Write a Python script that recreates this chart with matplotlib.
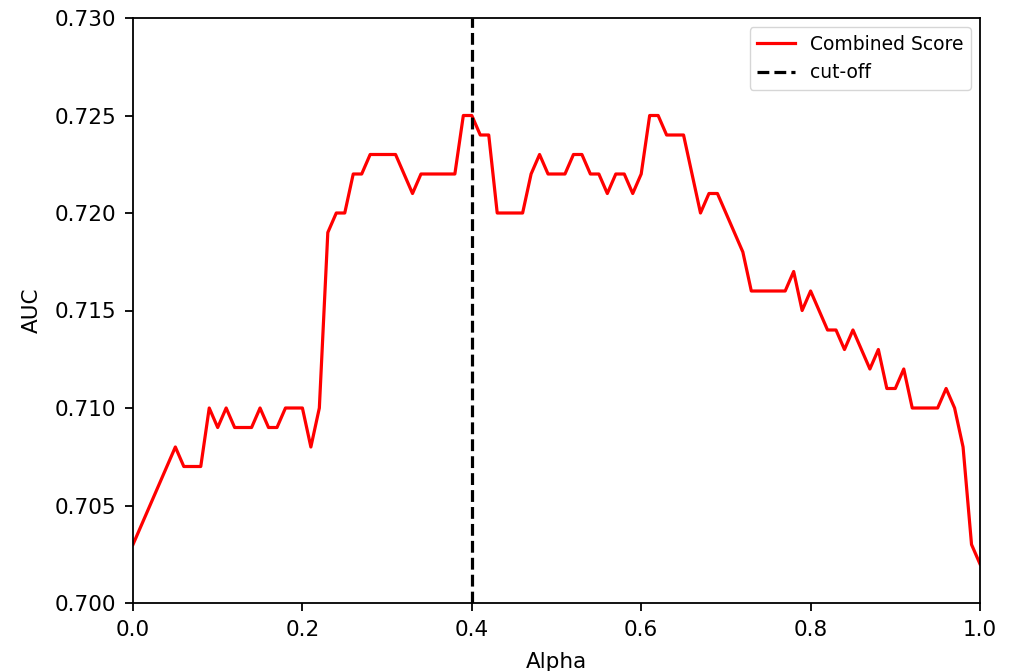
import matplotlib
matplotlib.use('Agg')
import matplotlib.pyplot as plt
import numpy as np

alpha = np.round(np.arange(0, 101) / 100, 2)
auc = [0.703, 0.704, 0.705, 0.706, 0.707, 0.708, 0.707, 0.707, 0.707, 0.710,
       0.709, 0.710, 0.709, 0.709, 0.709, 0.710, 0.709, 0.709, 0.710, 0.710,
       0.710, 0.708, 0.710, 0.719, 0.720, 0.720, 0.722, 0.722, 0.723, 0.723,
       0.723, 0.723, 0.722, 0.721, 0.722, 0.722, 0.722, 0.722, 0.722, 0.725,
       0.725, 0.724, 0.724, 0.720, 0.720, 0.720, 0.720, 0.722, 0.723, 0.722,
       0.722, 0.722, 0.723, 0.723, 0.722, 0.722, 0.721, 0.722, 0.722, 0.721,
       0.722, 0.725, 0.725, 0.724, 0.724, 0.724, 0.722, 0.720, 0.721, 0.721,
       0.720, 0.719, 0.718, 0.716, 0.716, 0.716, 0.716, 0.716, 0.717, 0.715,
       0.716, 0.715, 0.714, 0.714, 0.713, 0.714, 0.713, 0.712, 0.713, 0.711,
       0.711, 0.712, 0.710, 0.710, 0.710, 0.710, 0.711, 0.710, 0.708, 0.703,
       0.702]
cutoff = 0.4

plt.rcParams['font.size'] = 15.5
plt.rcParams['axes.linewidth'] = 1.3

fig = plt.figure(figsize=(10.11, 6.71), dpi=100)
ax = fig.add_axes([133/1011, 1 - 603/671, 847/1011, 585/671])
ax.plot(alpha, auc, color='red', lw=2.3, label='Combined Score')
ax.axvline(cutoff, color='black', ls='--', lw=2.3, label='cut-off')
ax.set_xlim(0, 1)
ax.set_ylim(0.700, 0.730)
ax.set_xticks([0.0, 0.2, 0.4, 0.6, 0.8, 1.0])
ax.set_yticks([0.700, 0.705, 0.710, 0.715, 0.720, 0.725, 0.730])
ax.yaxis.set_major_formatter(matplotlib.ticker.FormatStrFormatter('%.3f'))
ax.tick_params(length=6, width=1.3, pad=6)
ax.set_xlabel('Alpha', labelpad=9)
ax.set_ylabel('AUC', labelpad=9)
ax.legend(loc='upper right', fontsize=13.5)
fig.savefig('out.png', dpi=100)
